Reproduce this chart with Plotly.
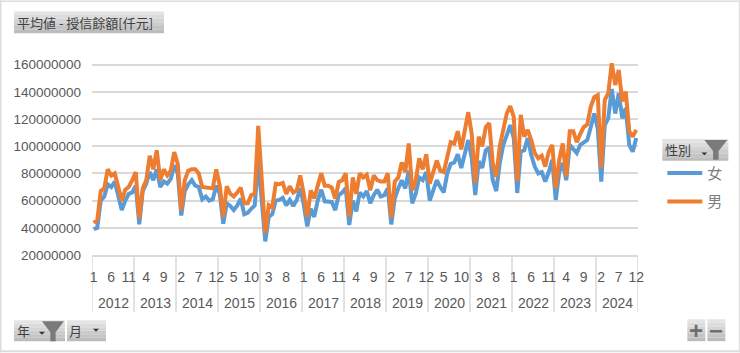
import plotly.graph_objects as go

W, H = 740, 353
L, R, T, B = 92, 637.7, 50.75, 255.5

years = list(range(2012, 2025))
months = list(range(1, 13))

female_m = [
    39, 40, 60, 63, 72, 70, 74, 64, 53, 60, 65, 66,
    71, 42.5, 67, 72.5, 81, 75, 83, 70, 74, 72.5, 76, 86,
    80, 49, 67, 72, 75, 71, 70, 61, 63, 60, 61, 71,
    65, 43, 58, 56, 53, 56.5, 61.5, 50, 51, 54, 56.5, 90,
    60, 30, 48, 50, 60, 60.5, 62, 56.5, 60.5, 56, 60.5, 69,
    57, 41, 54, 48, 60, 68, 59.5, 59.5, 59, 53, 64, 66,
    69, 42, 60, 52, 66, 63, 67, 58, 64, 68, 63, 64,
    69, 42.5, 61.5, 69, 75, 69, 82, 58, 65, 77, 75, 81,
    60, 67.5, 75, 70, 66, 80, 87, 88, 94, 84, 96, 104.5,
    91, 64, 89, 84, 97, 99, 75, 67, 87.6, 101, 108, 115.5,
    106, 65.6, 96, 97, 106, 93.5, 85, 80, 81, 74, 81, 90,
    60.5, 81, 87.6, 75, 101, 98, 95, 101, 103, 104.5, 114, 124,
    113, 74, 115.5, 120.5, 142, 124, 139, 120.5, 128, 101, 96, 106,
]
male_m = [
    43.6, 45.6, 67, 69, 83, 78.5, 80, 71, 60, 68, 70, 75,
    81, 47, 69, 75, 93, 83, 97, 75, 83, 78.5, 82, 95.6,
    87, 53, 75, 82, 83, 83, 80, 70, 69.5, 69, 69, 83,
    71, 48, 70.5, 65, 63, 66, 69.5, 58, 58, 64, 65, 115,
    75, 36, 56.6, 55, 72.4, 72, 73, 65, 70.5, 66, 67.5, 78.5,
    65, 48, 67.5, 61.5, 71, 80, 71, 71, 69.5, 61.5, 73.7, 75,
    80, 48, 77, 65, 80, 77, 79, 67.5, 78.5, 75, 74, 74,
    80, 47.5, 74, 77, 88, 81, 102, 67.5, 75, 91, 83, 94,
    72.5, 80, 89.5, 82, 81, 92, 103, 102, 111, 97.6, 113, 125,
    109, 73, 107, 100, 114, 117, 87.6, 77.6, 100, 114, 124, 129.5,
    121.6, 74, 123, 107, 112, 104.5, 95, 91, 93, 85, 96, 101,
    69, 90, 102, 77.6, 111, 111, 103, 109, 114, 116, 129, 136,
    137.5, 84, 134, 139, 161, 145, 156, 133, 140, 111, 107, 112,
]

tick_step = 5
y_ticks = [20000000, 40000000, 60000000, 80000000, 100000000, 120000000, 140000000, 160000000]
female = [v * 1e6 for v in female_m]
male = [v * 1e6 for v in male_m]
idx = list(range(len(years) * 12))
month_labels = [m for _ in years for m in months]
tickvals = idx[::tick_step]
ticktext = [str(month_labels[i]) for i in tickvals]

GREY = "#595959"
CJK = "Noto Sans CJK TC, Noto Sans CJK JP, sans-serif"


def px(x):
    return (x - L) / (R - L)


def py(y):
    return (B - y) / (B - T)


fig = go.Figure()
fig.add_trace(go.Scatter(x=idx, y=female, mode="lines", name="女", legendgroup="f",
                         line=dict(color="#5B9BD5", width=4), cliponaxis=False))
fig.add_trace(go.Scatter(x=idx, y=male, mode="lines", name="男", legendgroup="m",
                         line=dict(color="#ED7D31", width=4), cliponaxis=False))

shapes = []
annots = []


def rect(x0, y0, x1, y1, color):
    shapes.append(dict(type="rect", xref="paper", yref="paper", x0=px(x0), x1=px(x1), y0=py(y0), y1=py(y1),
                       fillcolor=color, line=dict(width=0), layer="below"))


def button(x0, y0, x1, y1):
    stops = ["#e4e4e4", "#dcdcdc", "#d4d4d4", "#cccccc", "#c4c4c4", "#bcbcbc"]
    n = len(stops)
    for i, c in enumerate(stops):
        rect(x0, y0 + (y1 - y0) * i / n, x1, y0 + (y1 - y0) * (i + 1) / n, c)


def poly(points, color):
    d = "M " + " L ".join(f"{px(a):.5f},{py(b):.5f}" for a, b in points) + " Z"
    shapes.append(dict(type="path", xref="paper", yref="paper", path=d, fillcolor=color, line=dict(width=0)))


def funnel(x0, y0, x1, y1):
    w, h = x1 - x0, y1 - y0
    poly([(x0, y0), (x1, y0), (x0 + w * 0.62, y0 + h * 0.55), (x0 + w * 0.62, y1),
          (x0 + w * 0.38, y1), (x0 + w * 0.38, y0 + h * 0.55)], "#7a7a7a")


def caret(cx, cy):
    poly([(cx - 3, cy - 1.5), (cx + 3, cy - 1.5), (cx, cy + 1.5)], "#333333")


def label(x, y, text, size=13, color="#404040", family=CJK, anchor="left"):
    annots.append(dict(xref="paper", yref="paper", x=px(x), y=py(y), text=text, showarrow=False,
                       xanchor=anchor, yanchor="middle", font=dict(size=size, color=color, family=family)))


# outer frame
rect(0, 0, W, 1.5, "#dcdcdc")
rect(0, 0, 1.5, H, "#dcdcdc")
rect(0, H - 2, W, H, "#dcdcdc")
rect(W - 1.5, 0, W, H, "#dcdcdc")

# title button
button(14, 11, 164, 33)
label(15, 22, "平均値 - 授信餘額[仟元]", size=13)

# legend field button
button(662, 139, 728, 161)
label(663, 150, "性別", size=13)
caret(704, 154)
funnel(704, 140, 727, 160)

# axis field buttons
button(14, 321, 65, 342)
label(15, 331, "年", size=13)
caret(42, 334)
funnel(42, 322, 64, 342)
button(67, 321, 106, 342)
label(67, 331, "月", size=13)
caret(96, 331)

# +/- buttons
button(687, 320, 705, 342)
button(707, 320, 725, 342)
label(696, 331, "<b>+</b>", size=24, color="#6e6e6e", family="Liberation Sans", anchor="center")
label(716, 331, "<b>−</b>", size=24, color="#6e6e6e", family="Liberation Sans", anchor="center")

# year dividers and labels
for k, yr in enumerate(years):
    start = k * 12 - 0.5
    shapes.append(dict(type="line", xref="x", yref="paper", x0=start, x1=start, y0=0, y1=py(313),
                       line=dict(color="#d9d9d9", width=1.5), layer="below"))
    annots.append(dict(xref="x", yref="paper", x=start + 6, y=py(303.5), text=str(yr), showarrow=False,
                       xanchor="center", yanchor="middle", font=dict(size=14, color=GREY, family="Liberation Sans")))
end = len(idx) - 0.5
shapes.append(dict(type="line", xref="x", yref="paper", x0=end, x1=end, y0=0, y1=py(313),
                   line=dict(color="#d9d9d9", width=1.5), layer="below"))

fig.update_layout(
    width=W, height=H, autosize=False,
    margin=dict(l=L, r=W - R, t=T, b=H - B),
    paper_bgcolor="white", plot_bgcolor="white",
    shapes=shapes, annotations=annots,
    xaxis=dict(range=[-0.5, len(idx) - 0.5], tickmode="array", tickvals=tickvals, ticktext=ticktext,
               showgrid=False, zeroline=False, showline=True, linecolor="#d9d9d9", linewidth=1.5,
               ticks="", ticklen=0, tickangle=0, ticklabelstandoff=8,
               tickfont=dict(size=14, color=GREY, family="Liberation Sans")),
    yaxis=dict(range=[20000000, 170000000], tickmode="array", tickvals=y_ticks,
               ticktext=[str(v) for v in y_ticks], showgrid=True, gridcolor="#d9d9d9", gridwidth=1.5,
               zeroline=False, showline=False, ticks="", ticklabelstandoff=10,
               tickfont=dict(size=13.5, color=GREY, family="Liberation Sans")),
    legend=dict(xref="paper", yref="paper", x=px(662), y=py(157), xanchor="left", yanchor="top",
                bgcolor="rgba(0,0,0,0)", borderwidth=0, itemwidth=35, tracegroupgap=6,
                entrywidth=25, entrywidthmode="pixels",
                font=dict(size=15, color="#7f7f7f", family=CJK)),
    showlegend=True,
)

fig.write_html("out.html", config=dict(displayModeBar=False),
               post_script="document.body.style.margin='0';")
